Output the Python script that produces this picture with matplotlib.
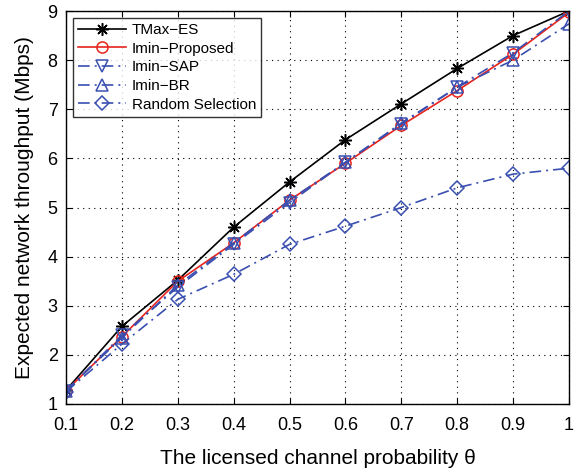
import matplotlib
matplotlib.use("Agg")
import matplotlib.pyplot as plt

theta = [0.1, 0.2, 0.3, 0.4, 0.5, 0.6, 0.7, 0.8, 0.9, 1.0]
tmax_es = [1.28, 2.58, 3.52, 4.60, 5.52, 6.38, 7.11, 7.83, 8.50, 9.00]
imin_proposed = [1.27, 2.37, 3.50, 4.28, 5.15, 5.90, 6.67, 7.38, 8.12, 8.97]
imin_sap = [1.26, 2.40, 3.38, 4.25, 5.10, 5.92, 6.70, 7.45, 8.15, 9.00]
imin_br = [1.27, 2.35, 3.42, 4.28, 5.15, 5.92, 6.72, 7.45, 8.00, 8.74]
random_sel = [1.25, 2.22, 3.13, 3.64, 4.25, 4.62, 5.00, 5.40, 5.68, 5.80]

plt.rcParams['font.family'] = ['Liberation Sans', 'DejaVu Sans']

fig = plt.figure(figsize=(5.77, 4.71), dpi=100)
ax = fig.add_axes([66/577, 1-404/471, (569-66)/577, (404-11)/471])

blue = '#3a4fb0'
dashdot = (0, (7, 3, 1.2, 3))
ax.plot(theta, tmax_es, color='black', lw=1.2, marker=(8, 2, 0), ms=9, mew=1.1, label='TMax\u2212ES')
ax.plot(theta, imin_proposed, color='#e8231c', lw=1.2, marker='o', ms=8, mfc='none', mew=1.1, label='Imin\u2212Proposed')
ax.plot(theta, imin_sap, color=blue, lw=1.2, ls=dashdot, marker='v', ms=8, mfc='none', mew=1.1, label='Imin\u2212SAP')
ax.plot(theta, imin_br, color=blue, lw=1.2, ls=dashdot, marker='^', ms=8, mfc='none', mew=1.1, label='Imin\u2212BR')
ax.plot(theta, random_sel, color=blue, lw=1.2, ls=dashdot, marker='D', ms=7, mfc='none', mew=1.1, label='Random Selection')

ax.set_xlim(0.1, 1.0)
ax.set_ylim(1, 9)
ax.set_xticks(theta)
ax.set_xticklabels(['0.1', '0.2', '0.3', '0.4', '0.5', '0.6', '0.7', '0.8', '0.9', '1'])
ax.set_yticks(range(1, 10))
ax.grid(True, color='black', ls=(0, (1, 4)), lw=0.8)
ax.tick_params(direction='in', top=True, right=True, labelsize=13, length=4)
ax.tick_params(axis='x', pad=9)
ax.tick_params(axis='y', pad=6)
for s in ax.spines.values():
    s.set_linewidth(1.0)

ax.set_xlabel('The licensed channel probability \u03b8', fontsize=15, labelpad=11)
ax.set_ylabel('Expected network throughput (Mbps)', fontsize=15, labelpad=10)

leg = ax.legend(loc='upper left', fontsize=11, frameon=True, fancybox=False,
                edgecolor='black', borderaxespad=0.45, handlelength=3.1,
                labelspacing=0.3, borderpad=0.35, handletextpad=0.4)
leg.get_frame().set_linewidth(1.0)

fig.savefig('out.png', dpi=100)
